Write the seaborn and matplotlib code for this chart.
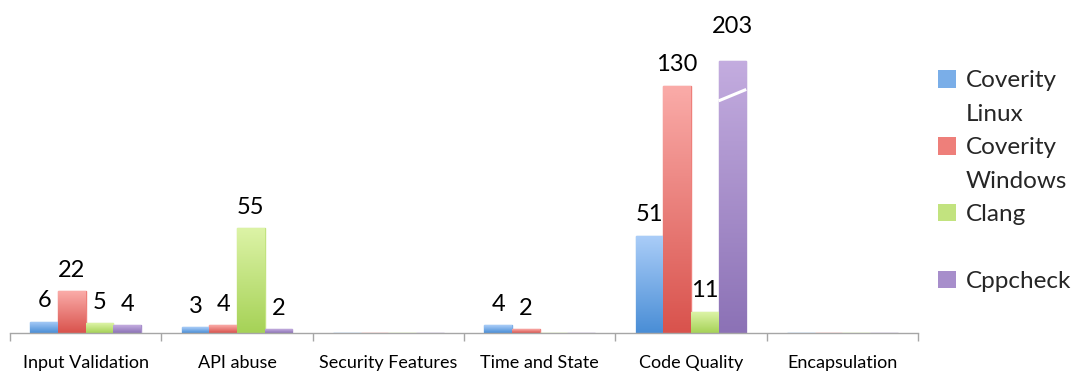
import numpy as np
import pandas as pd
import matplotlib
matplotlib.use("Agg")
import matplotlib.pyplot as plt
import seaborn as sns
from matplotlib.colors import LinearSegmentedColormap
from matplotlib.patches import Patch

# ---- data ----
categories = ["Input Validation", "API abuse", "Security Features",
              "Time and State", "Code Quality", "Encapsulation"]
series = ["Coverity Linux", "Coverity Windows", "Clang", "Cppcheck"]
coverity_linux = [6, 3, 0, 4, 51, 0]
coverity_windows = [22, 4, 0, 2, 130, 0]
clang = [5, 55, 0, 0, 11, 0]
cppcheck = [4, 2, 0, 0, 203, 0]
# legend rows (first line carries the colour key, following lines continue it)
legend_rows = [["Coverity", "Linux"], ["Coverity", "Windows"], ["Clang", " "], ["Cppcheck"]]

break_cap = 143      # visual height at which an overflowing bar is cut
break_at = 125       # where the white break mark sits

# ---- style ----
top_colors = ["#aacdf8", "#faaba8", "#dcf3a6", "#c3acdf"]
bottom_colors = ["#4a8ed6", "#d9534d", "#a6d257", "#8c72b6"]
mid_colors = ["#7aaee8", "#ee7f7a", "#c2e37f", "#a78ecb"]

values = {s: v for s, v in zip(series, [coverity_linux, coverity_windows, clang, cppcheck])}
rows = []
for s in series:
    for c, v in zip(categories, values[s]):
        rows.append({"category": c, "series": s, "value": v,
                     "display": min(v, break_cap)})
df = pd.DataFrame(rows)

sns.set_theme(style="white")
plt.rcParams["font.family"] = ["Lato", "DejaVu Sans"]

fig = plt.figure(figsize=(10.84, 3.74), dpi=100)
ax = fig.add_axes([10 / 1084, 41 / 374, 908 / 1084, 333 / 374])

sns.barplot(data=df, x="category", y="display", hue="series",
            order=categories, hue_order=series, palette=mid_colors,
            width=0.73, saturation=1, errorbar=None, legend=False, ax=ax)

for ci, (cont, s) in enumerate(zip(ax.containers, series)):
    cmap = LinearSegmentedColormap.from_list("g%d" % ci, [bottom_colors[ci], top_colors[ci]])
    for patch, v in zip(cont.patches, values[s]):
        patch.set_edgecolor(mid_colors[ci])
        patch.set_linewidth(1.0)
        x0 = patch.get_x()
        w = patch.get_width()
        h = patch.get_height()
        if h > 0:
            grad = np.linspace(1, 0, 64).reshape(-1, 1)
            im = ax.imshow(grad, cmap=cmap, extent=(x0, x0 + w, 0, h),
                           aspect="auto", zorder=patch.get_zorder() + 0.1,
                           interpolation="bicubic")
            im.set_clip_path(patch)
            clipped = v > break_cap
            ax.annotate(str(v), (x0 + w / 2, h),
                        xytext=(0, 20 if clipped else 10.5),
                        textcoords="offset points", ha="center",
                        va="baseline", fontsize=17, color="black")
            if clipped:
                ax.plot([x0, x0 + w], [break_at - 3, break_at + 3],
                        color="white", lw=2.2, solid_capstyle="butt",
                        zorder=patch.get_zorder() + 0.5)

ax.set_xlim(-0.5, len(categories) - 0.5)
ax.set_ylim(0, 175)
ax.set_xlabel("")
ax.set_ylabel("")
ax.set_yticks([])
for sp in ["left", "top", "right"]:
    ax.spines[sp].set_visible(False)
ax.spines["bottom"].set_color("#a6a6a6")
ax.spines["bottom"].set_linewidth(1.0)
ax.set_xticks(np.arange(-0.5, len(categories), 1.0), minor=True)
ax.tick_params(axis="x", which="major", length=0, pad=16, labelsize=13,
               bottom=True, colors="black")
ax.tick_params(axis="x", which="minor", length=6, width=1,
               color="#a6a6a6", bottom=True, direction="out")

handles, labels = [], []
for ci, lines in enumerate(legend_rows):
    for li, line in enumerate(lines):
        if li == 0:
            handles.append(Patch(facecolor=mid_colors[ci], edgecolor="none"))
        else:
            handles.append(Patch(facecolor="none", edgecolor="none"))
        labels.append(line)
leg = fig.legend(handles, labels, loc="upper left",
                 bbox_to_anchor=(938 / 1084, 1 - 70 / 374), frameon=False,
                 fontsize=17.5, handlelength=0.74, handleheight=0.74,
                 handletextpad=0.4, labelspacing=0.5, borderpad=0,
                 borderaxespad=0)

fig.savefig("out.png", dpi=100)
